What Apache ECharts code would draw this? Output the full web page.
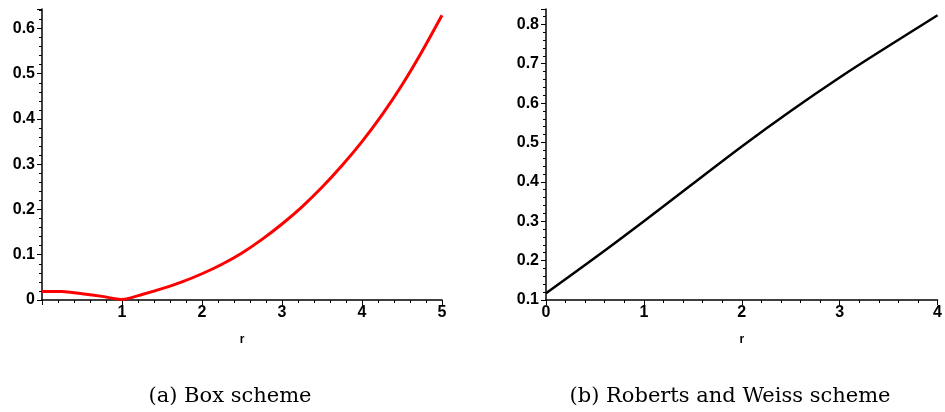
<!DOCTYPE html>
<html>
<head>
<meta charset="utf-8">
<script src="https://cdn.jsdelivr.net/npm/echarts@6/dist/echarts.min.js"></script>
<style>
  html, body { margin: 0; padding: 0; background: #fff; }
  #chart { width: 945px; height: 412px; }
</style>
</head>
<body>
<div id="chart"></div>
<script>
// (a) Box scheme: r against amplification error
const boxR = [0, 0.25, 0.5, 0.75, 1, 1.25, 1.5, 1.75, 2, 2.25, 2.5, 2.75, 3, 3.25, 3.5, 3.75, 4, 4.25, 4.5, 4.75, 5];
const boxVal = [0.019, 0.019, 0.014, 0.008, 0.001, 0.012, 0.025, 0.040, 0.058, 0.079, 0.104, 0.134, 0.168, 0.206, 0.249, 0.297, 0.350, 0.409, 0.475, 0.549, 0.629];

// (b) Roberts and Weiss scheme
const rwR = [0, 0.5, 1, 1.5, 2, 2.5, 3, 3.5, 4];
const rwVal = [0.117, 0.207, 0.300, 0.395, 0.490, 0.580, 0.665, 0.745, 0.823];

// Axis ranges and tick labels
const boxXTicks = [0, 1, 2, 3, 4, 5];
const boxYTicks = [0, 0.1, 0.2, 0.3, 0.4, 0.5, 0.6];
const rwXTicks = [0, 1, 2, 3, 4];
const rwYTicks = [0.1, 0.2, 0.3, 0.4, 0.5, 0.6, 0.7, 0.8];
const boxYMax = 0.643;
const rwYMax = 0.839;

const captions = ['(a) Box scheme', '(b) Roberts and Weiss scheme'];
const axisName = 'r';

const tickFont = { fontFamily: '"Liberation Sans", Arial, sans-serif', fontWeight: 'bold', fontSize: 16, color: '#000' };

function fmt(v) {
  return v === 0 ? '0' : String(Math.round(v * 10) / 10);
}

function xAxis(gridIndex, ticks, showMin) {
  return {
    type: 'value', gridIndex,
    min: ticks[0], max: ticks[ticks.length - 1], interval: 1,
    name: axisName, nameLocation: 'middle', nameGap: 34,
    nameTextStyle: { fontFamily: '"Liberation Sans", Arial, sans-serif', fontWeight: 'bold', fontSize: 12, color: '#000' },
    axisLine: { show: true, onZero: false, lineStyle: { color: '#000', width: 1.5 } },
    axisTick: { show: true, length: 5, lineStyle: { color: '#000', width: 1 } },
    minorTick: { show: true, splitNumber: 5, length: 3, lineStyle: { color: '#000', width: 1 } },
    axisLabel: Object.assign({ margin: 5, showMinLabel: showMin, formatter: fmt }, tickFont),
    splitLine: { show: false }
  };
}

function yAxis(gridIndex, ticks, max) {
  return {
    type: 'value', gridIndex,
    min: ticks[0], max: max, interval: 0.1,
    axisLine: { show: true, onZero: false, lineStyle: { color: '#000', width: 1.5 } },
    axisTick: { show: true, length: 5, lineStyle: { color: '#000', width: 1 } },
    minorTick: { show: true, splitNumber: 5, length: 3, lineStyle: { color: '#000', width: 1 } },
    axisLabel: Object.assign({ margin: 7, showMaxLabel: false, formatter: fmt }, tickFont),
    splitLine: { show: false }
  };
}

const chart = echarts.init(document.getElementById('chart'));
chart.setOption({
  backgroundColor: '#fff',
  animation: false,
  grid: [
    { left: 42, top: 9, width: 400, height: 291 },
    { left: 546, top: 9, width: 392, height: 291 }
  ],
  xAxis: [xAxis(0, boxXTicks, false), xAxis(1, rwXTicks, true)],
  yAxis: [yAxis(0, boxYTicks, boxYMax), yAxis(1, rwYTicks, rwYMax)],
  series: [
    {
      type: 'line', xAxisIndex: 0, yAxisIndex: 0,
      data: boxR.map((r, i) => [r, boxVal[i]]),
      showSymbol: false, smooth: 0.2,
      lineStyle: { color: '#ff0000', width: 3 }
    },
    {
      type: 'line', xAxisIndex: 1, yAxisIndex: 1,
      data: rwR.map((r, i) => [r, rwVal[i]]),
      showSymbol: false, smooth: 0.4,
      lineStyle: { color: '#000', width: 2.5 }
    }
  ],
  graphic: [
    { type: 'text', x: 230, y: 386, style: { text: captions[0], font: '21px "DejaVu Serif", serif', fill: '#000', textAlign: 'center' } },
    { type: 'text', x: 730, y: 386, style: { text: captions[1], font: '21px "DejaVu Serif", serif', fill: '#000', textAlign: 'center' } }
  ]
});
</script>
</body>
</html>
